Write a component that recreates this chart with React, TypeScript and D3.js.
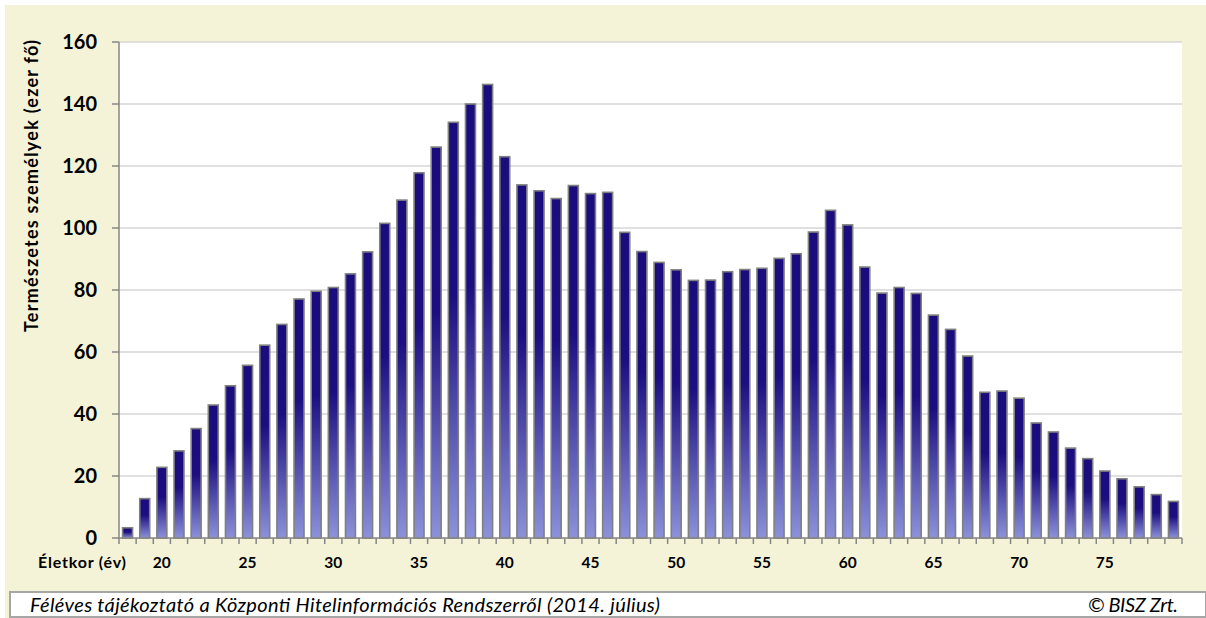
import React from 'react';
import * as d3 from 'd3';

// age groups 18..79 and number of natural persons (thousand)
const ages = d3.range(18, 80);
const persons = [
  3.3, 12.7, 22.8, 28.1, 35.3, 42.9, 49.1, 55.7, 62.2, 68.9,
  77.1, 79.6, 80.8, 85.2, 92.3, 101.5, 109.0, 117.8, 126.1, 134.1,
  140.0, 146.3, 123.0, 113.9, 112.0, 109.5, 113.7, 111.1, 111.5, 98.6,
  92.4, 88.9, 86.5, 83.1, 83.2, 85.9, 86.6, 87.0, 90.2, 91.7,
  98.7, 105.7, 101.0, 87.4, 79.0, 80.8, 78.9, 71.9, 67.3, 58.7,
  47.0, 47.4, 45.1, 37.1, 34.2, 29.0, 25.6, 21.6, 19.1, 16.5,
  14.0, 11.8,
];
const yTicks = [0, 20, 40, 60, 80, 100, 120, 140, 160];
const xLabels = [20, 25, 30, 35, 40, 45, 50, 55, 60, 65, 70, 75];

const W = 1206;
const H = 618;
const left = 119;
const right = 1182;
const top = 42;
const bottom = 538;
const font = 'Lato, "Open Sans", sans-serif';

export default function App() {
  const x = d3
    .scaleBand<number>()
    .domain(ages)
    .range([left, right])
    .paddingInner(0.42)
    .paddingOuter(0.21);
  const y = d3.scaleLinear().domain([0, 160]).range([bottom, top]);
  const step = x.step();

  return (
    <div style={{ position: 'fixed', left: 0, top: 0 }}>
      <svg width={W} height={H} style={{ display: 'block' }}>
        <defs>
          <linearGradient id="barFill" x1="0" y1="0" x2="0" y2="1">
            <stop offset="0" stopColor="#1b0c7e" />
            <stop offset="0.42" stopColor="#1c0e80" />
            <stop offset="1" stopColor="#8c92da" />
          </linearGradient>
        </defs>
        <rect x={0} y={0} width={W} height={H} fill="#ffffff" />
        <rect x={5} y={5} width={W - 5} height={H - 5} fill="#f5f3d7" />
        <rect x={left} y={top} width={right - left} height={bottom - top} fill="#ffffff" />

        {/* gridlines */}
        {yTicks.slice(1).map(t => (
          <line key={t} x1={left} x2={right} y1={y(t)} y2={y(t)} stroke="#d6d6d6" strokeWidth={1.5} />
        ))}

        {/* bars */}
        {ages.map((a, i) => (
          <rect
            key={a}
            x={x(a)}
            y={y(persons[i])}
            width={x.bandwidth()}
            height={bottom - y(persons[i])}
            fill="url(#barFill)"
            stroke="#808080"
            strokeWidth={1.6}
          />
        ))}

        {/* axes */}
        <line x1={left} x2={left} y1={top} y2={bottom} stroke="#868686" strokeWidth={1.5} />
        <line x1={left} x2={right} y1={bottom} y2={bottom} stroke="#868686" strokeWidth={1.5} />
        {yTicks.map(t => (
          <g key={t}>
            <line x1={left - 7} x2={left} y1={y(t)} y2={y(t)} stroke="#868686" strokeWidth={1.5} />
            <text
              x={97}
              y={y(t)}
              dy="0.35em"
              textAnchor="end"
              fontFamily={font}
              fontWeight="bold"
              fontSize={20}
              fill="#000"
            >
              {t}
            </text>
          </g>
        ))}
        {d3.range(ages.length + 1).map(i => (
          <line
            key={i}
            x1={left + i * step}
            x2={left + i * step}
            y1={bottom}
            y2={bottom + 6}
            stroke="#868686"
            strokeWidth={1.5}
          />
        ))}
        {xLabels.map(a => (
          <text
            key={a}
            x={(x(a) as number) + x.bandwidth() / 2}
            y={568}
            textAnchor="middle"
            fontFamily={font}
            fontWeight="bold"
            fontSize={15.5}
            fill="#000"
          >
            {a}
          </text>
        ))}
        <text
          x={38}
          y={568}
          fontFamily={font}
          fontWeight="bold"
          fontSize={16}
          textLength={88}
          lengthAdjust="spacing"
          fill="#000"
        >
          Életkor (év)
        </text>

        {/* y title */}
        <text
          transform={`translate(37.5, 186) rotate(-90)`}
          textAnchor="middle"
          fontFamily={font}
          fontWeight="bold"
          fontSize={18}
          textLength={292}
          lengthAdjust="spacing"
          fill="#000"
        >
          Természetes személyek (ezer fő)
        </text>

        {/* footer */}
        <rect x={10} y={592} width={W - 10} height={25} fill="#ffffff" stroke="#a6a6a6" strokeWidth={2} />
        <text
          x={30}
          y={612}
          fontFamily={font}
          fontStyle="italic"
          fontSize={20}
          textLength={630}
          lengthAdjust="spacing"
          fill="#000"
        >
          Féléves tájékoztató a Központi Hitelinformációs Rendszerről (2014. július)
        </text>
        <text
          x={1178}
          y={612}
          textAnchor="end"
          fontFamily={font}
          fontStyle="italic"
          fontSize={20}
          textLength={90}
          lengthAdjust="spacing"
          fill="#000"
        >
          © BISZ Zrt.
        </text>
      </svg>
    </div>
  );
}
